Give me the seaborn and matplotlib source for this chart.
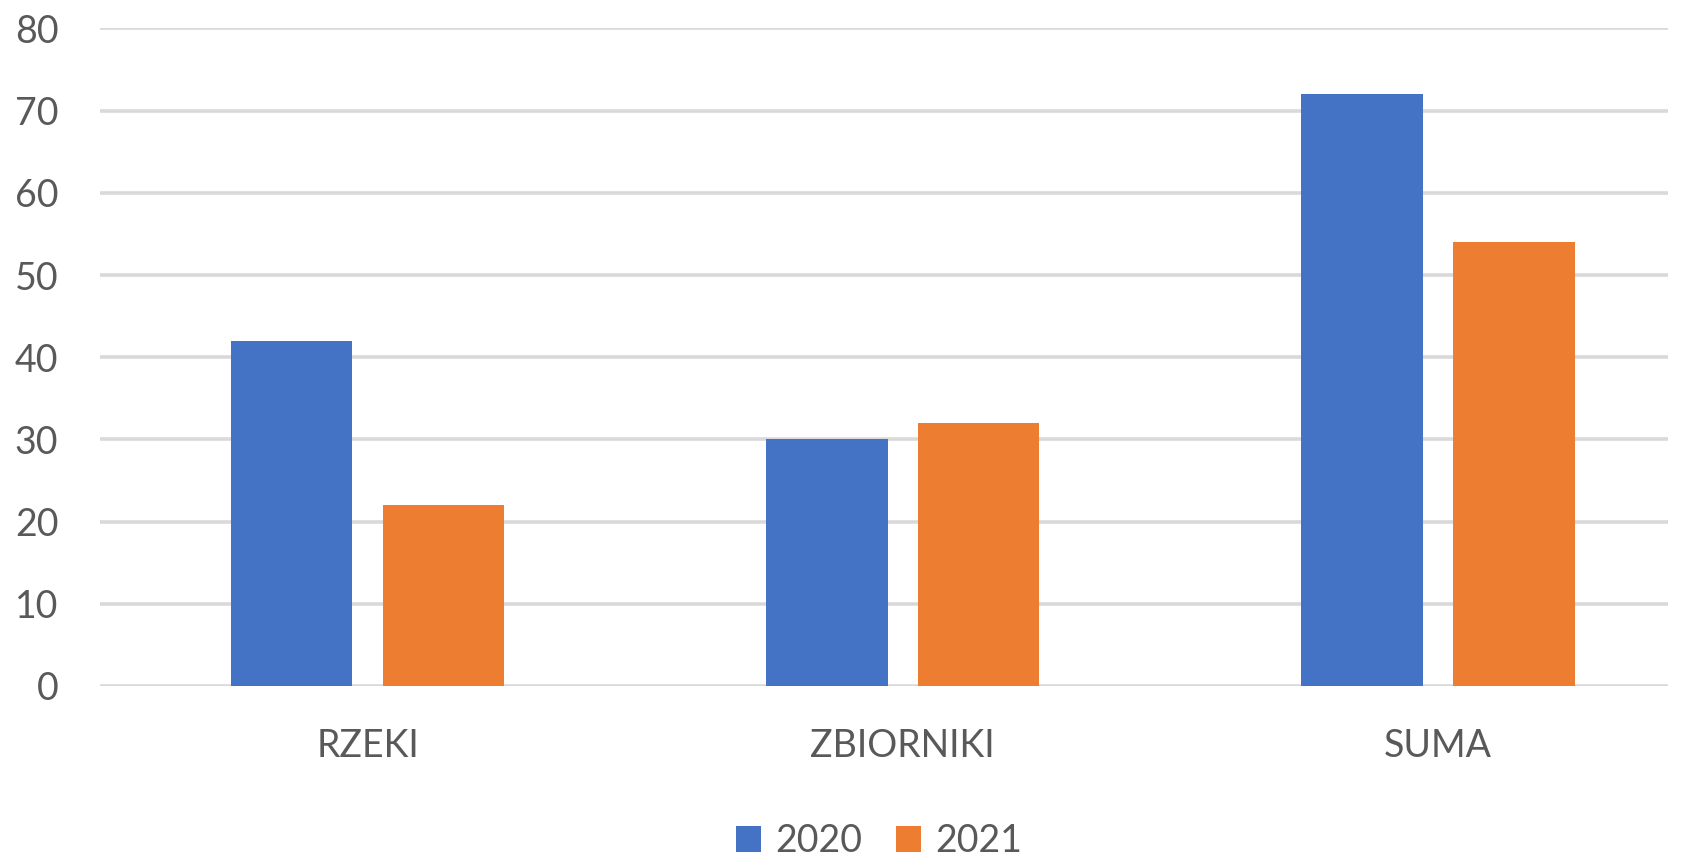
import pandas as pd
import seaborn as sns
import matplotlib
matplotlib.use("Agg")
import matplotlib.pyplot as plt

# data
kategorie = ["RZEKI", "ZBIORNIKI", "SUMA"]
lata = ["2020", "2021"]
wartosci_2020 = [42, 30, 72]
wartosci_2021 = [22, 32, 54]

df = pd.DataFrame({
    "kategoria": kategorie * 2,
    "rok": [lata[0]] * 3 + [lata[1]] * 3,
    "wartosc": wartosci_2020 + wartosci_2021,
})

sns.set_theme(style="white")
plt.rcParams["font.family"] = ["Lato", "DejaVu Sans"]
szary = "#595959"

fig = plt.figure(figsize=(16.98, 8.58), dpi=100)
ax = fig.add_axes([0.0589, 0.2005, 0.9234, 0.7663])

sns.barplot(data=df, x="kategoria", y="wartosc", hue="rok",
            palette=["#4472C4", "#ED7D31"], width=0.568, gap=0.2,
            saturation=1, linewidth=0, ax=ax, legend=True, zorder=3)

ax.set_ylim(0, 80)
ax.set_xlim(-0.5, 2.43)
ax.set_yticks(range(0, 81, 10))
ax.yaxis.grid(True, color="#d9d9d9", linewidth=2.6, zorder=0)
ax.set_axisbelow(True)
for s in ax.spines.values():
    s.set_visible(False)
ax.set_xlabel("")
ax.set_ylabel("")
ax.tick_params(axis="y", length=0, pad=30, labelsize=27, labelcolor=szary)
ax.tick_params(axis="x", length=0, pad=30, labelsize=27, labelcolor=szary)

# legend at the bottom, like Excel
handles, labels = ax.get_legend_handles_labels()
ax.get_legend().remove()
fig.legend(handles, labels, loc="center", bbox_to_anchor=(0.5177, 0.0198),
           ncol=2, frameon=False, fontsize=27, labelcolor=szary,
           handlelength=0.67, handleheight=0.67, handletextpad=0.37,
           columnspacing=0.9, borderpad=0)

plt.savefig("out.png", dpi=100)
